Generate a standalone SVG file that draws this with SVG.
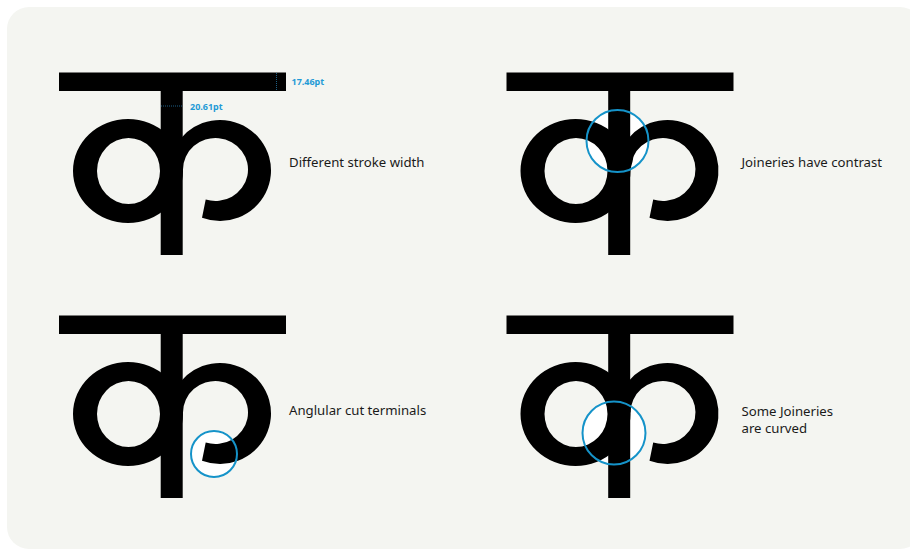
<svg xmlns="http://www.w3.org/2000/svg" width="910" height="550" viewBox="0 0 910 550">
  <style>
    .ink { fill: #000; }
    .label { font-family: "Noto Sans", "Open Sans", "DejaVu Sans", sans-serif; font-size: 13.2px; fill: #1a1a1a; }
    .dim { font-family: "Noto Sans", "Open Sans", "DejaVu Sans", sans-serif; font-size: 9px; font-weight: bold; fill: #1f9ad6; }
    .dot { stroke: #1d5f85; stroke-width: 1; stroke-dasharray: 1 1; fill: none; }
    .hl-fill { fill: #ffffff; stroke: none; }
    .hl-ring { fill: none; stroke: #1593c9; stroke-width: 2; }
  </style>
  <defs>
    <g id="ka">
      <rect class="ink" x="59" y="72.5" width="227" height="18.5"/>
      <rect class="ink" x="160.7" y="90" width="22" height="165"/>
      <path class="ink" fill-rule="evenodd" d="M73,171 A55,52 0 1,0 183,171 A55,52 0 1,0 73,171 Z M97,171 A31.5,33 0 1,0 160,171 A31.5,33 0 1,0 97,171 Z"/>
      <path class="ink" d="M180,139.17 A51,50.5 0 1,1 202,217.75 L205.7,199.53 A32.5,31.5 0 1,0 183,169.5 L180,169.5 Z"/>
    </g>
  </defs>

  <rect id="panel" x="7" y="7" width="915" height="542" rx="22" ry="22" fill="#f4f5f1"/>

  <g id="glyph-stroke-width">
    <use href="#ka"/>
    <line class="dot" x1="276.5" y1="73" x2="276.5" y2="91"/>
    <line class="dot" x1="161" y1="106" x2="182" y2="106"/>
    <text class="dim" x="291.5" y="85">17.46pt</text>
    <text class="dim" x="190" y="110">20.61pt</text>
    <text class="label" x="289" y="167">Different stroke width</text>
  </g>

  <g id="glyph-contrast">
    <circle class="hl-fill" cx="617.5" cy="141" r="31"/>
    <use href="#ka" transform="translate(447.5,0)"/>
    <path class="ink" d="M629,138 Q638,152 629,172 Z"/>
    <circle class="hl-ring" cx="617.5" cy="141" r="31"/>
    <text class="label" x="741.5" y="167">Joineries have contrast</text>
  </g>

  <g id="glyph-terminals">
    <circle class="hl-fill" cx="214" cy="454" r="23"/>
    <use href="#ka" transform="translate(0,243)"/>
    <circle class="hl-ring" cx="214" cy="454" r="23"/>
    <text class="label" x="289" y="415">Anglular cut terminals</text>
  </g>

  <g id="glyph-curved">
    <circle class="hl-fill" cx="614" cy="433" r="31.5"/>
    <use href="#ka" transform="translate(447.5,243)"/>
    <circle class="hl-ring" cx="614" cy="433" r="31.5"/>
    <text class="label" x="741.5" y="415.5">Some Joineries</text>
    <text class="label" x="741.5" y="433.3">are curved</text>
  </g>
</svg>
